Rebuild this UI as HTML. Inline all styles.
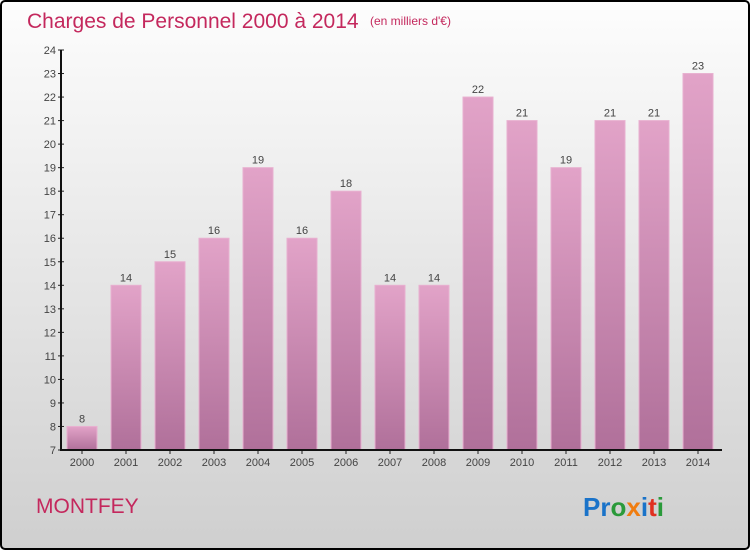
<!DOCTYPE html>
<html><head><meta charset="utf-8"><style>
body{margin:0;width:750px;height:550px;overflow:hidden}
svg{display:block;font-family:"Liberation Sans",sans-serif}
</style></head><body>
<svg id="c" width="750" height="550" xmlns="http://www.w3.org/2000/svg">
<defs>
<linearGradient id="bg" x1="0" y1="0" x2="0" y2="1"><stop offset="0" stop-color="#fdfdfd"/><stop offset="1" stop-color="#cfcfcf"/></linearGradient>
<linearGradient id="bar" x1="0" y1="0" x2="0" y2="1"><stop offset="0" stop-color="#e2a3c8"/><stop offset="1" stop-color="#b0709a"/></linearGradient>
</defs>
<rect x="1" y="1" width="748" height="548" rx="4" fill="url(#bg)" stroke="#000" stroke-width="2"/>
<text x="27" y="28" font-size="21" fill="#c4285d">Charges de Personnel 2000 à 2014</text>
<text x="370" y="25" font-size="12" fill="#c4285d">(en milliers d'€)</text>
<g id="plot"></g>
<text x="36" y="513" font-size="21" fill="#c4285d">MONTFEY</text>
<text x="583" y="516" font-size="26" font-weight="bold"><tspan fill="#1a73c9">Pr</tspan><tspan fill="#2a9a3a">o</tspan><tspan fill="#f07d10">x</tspan><tspan fill="#1a73c9">i</tspan><tspan fill="#e03020">t</tspan><tspan fill="#2a9a3a">i</tspan></text>
</svg>
<script>
const years=["2000","2001","2002","2003","2004","2005","2006","2007","2008","2009","2010","2011","2012","2013","2014"];
const values=[8,14,15,16,19,16,18,14,14,22,21,19,21,21,23];
const yTicks=[7,8,9,10,11,12,13,14,15,16,17,18,19,20,21,22,23,24];
const NS="http://www.w3.org/2000/svg";
const g=document.getElementById("plot");
const yMin=7,yMax=24,plotTop=50,plotBot=450;
const y=v=>plotBot-(v-yMin)*(plotBot-plotTop)/(yMax-yMin);
const x=i=>82+i*44;
function mk(t,a){const e=document.createElementNS(NS,t);for(const k in a)e.setAttribute(k,a[k]);g.appendChild(e);return e;}
yTicks.forEach(t=>{
 const l=mk("line",{x1:58,x2:64,y1:y(t),y2:y(t),stroke:"#222"});
 
 
 const tx=mk("text",{x:56,y:y(t)+4,"font-size":11,fill:"#444","text-anchor":"end"});
 tx.textContent=t;
 
 
});
values.forEach((v,i)=>{
 const r=mk("rect",{x:x(i)-15,y:y(v),width:30,height:plotBot-y(v),fill:"url(#bar)",stroke:"#e8b0d0","stroke-width":1});
 
 
 const vl=mk("text",{x:x(i),y:y(v)-4,"font-size":11,fill:"#444","text-anchor":"middle"});
 vl.textContent=v;
 
 
 const tk=mk("line",{x1:x(i),x2:x(i),y1:plotBot,y2:plotBot+4,stroke:"#222"});
 
 
 const xl=mk("text",{x:x(i),y:plotBot+16,"font-size":11,fill:"#444","text-anchor":"middle"});
 xl.textContent=years[i];
 
 
});
const ya=mk("line",{x1:61,x2:61,y1:plotTop,y2:plotBot+1,stroke:"#111","stroke-width":2});


const xa=mk("line",{x1:60,x2:722,y1:plotBot,y2:plotBot,stroke:"#111","stroke-width":2});


</script>
</body></html>
